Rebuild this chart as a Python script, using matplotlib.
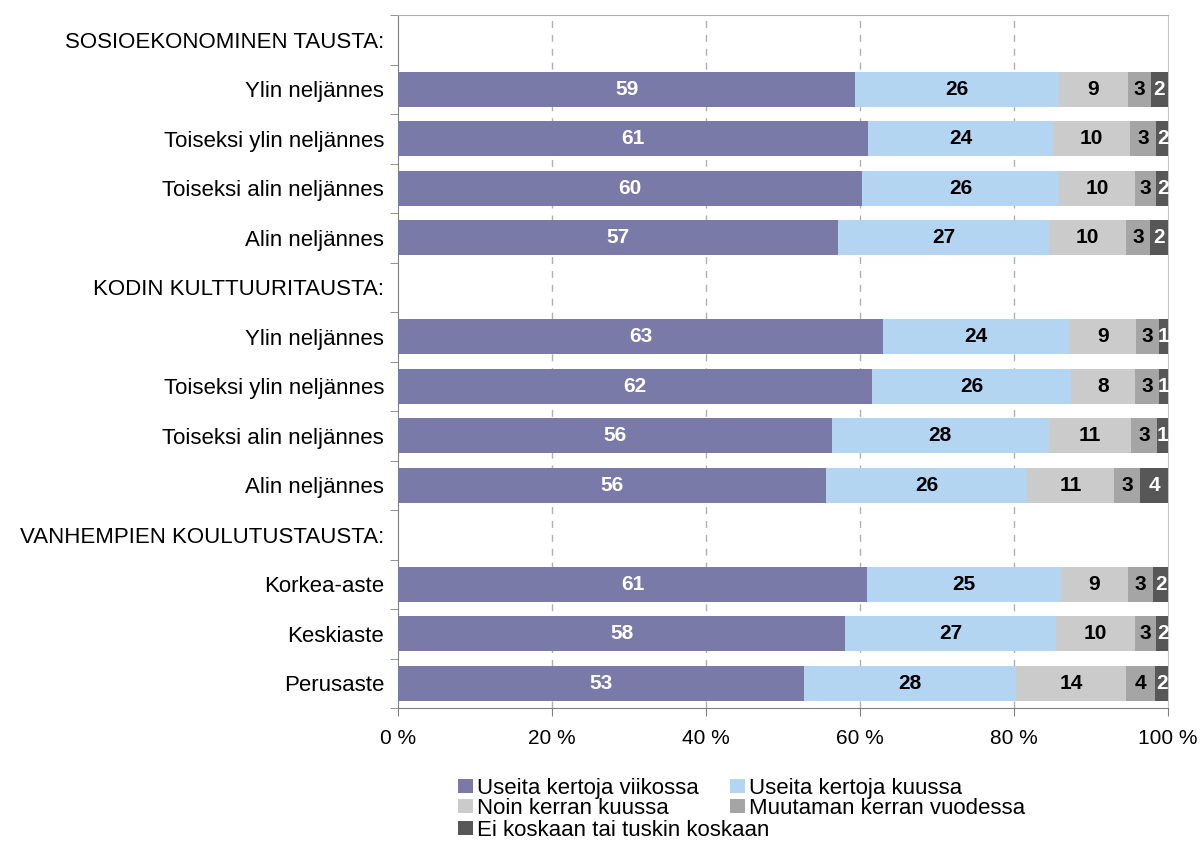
import numpy as np
import matplotlib
matplotlib.use("Agg")
import matplotlib.pyplot as plt
from matplotlib.patches import Patch

plt.rcParams['font.family'] = ['Liberation Sans', 'DejaVu Sans']

# groups (header rows have no bar)
groups = ['SOSIOEKONOMINEN TAUSTA:', 'KODIN KULTTUURITAUSTA:', 'VANHEMPIEN KOULUTUSTAUSTA:']
quartiles = ['Ylin neljännes', 'Toiseksi ylin neljännes', 'Toiseksi alin neljännes', 'Alin neljännes']
education = ['Korkea-aste', 'Keskiaste', 'Perusaste']
subcats = [quartiles, quartiles, education]

series = ['Useita kertoja viikossa', 'Useita kertoja kuussa', 'Noin kerran kuussa',
          'Muutaman kerran vuodessa', 'Ei koskaan tai tuskin koskaan']
colors = ['#7a7aa8', '#b4d5f2', '#cbcbcb', '#a5a5a5', '#575757']
label_colors = ['white', 'black', 'black', 'black', 'white']

# percentages per bar row (11 rows, top to bottom)
weekly  = [59.4, 61.1, 60.3, 57.2, 63.0, 61.6, 56.3, 55.6, 60.9, 58.1, 52.7]
monthly = [26.4, 24.0, 25.6, 27.3, 24.2, 25.8, 28.2, 26.1, 25.2, 27.3, 27.6]
once    = [9.0, 10.0, 9.8, 10.0, 8.7, 8.3, 10.7, 11.3, 8.7, 10.3, 14.3]
yearly  = [3.0, 3.4, 2.8, 3.2, 2.9, 3.1, 3.4, 3.4, 3.3, 2.8, 3.7]
never   = [2.2, 1.6, 1.6, 2.3, 1.2, 1.2, 1.4, 3.6, 1.9, 1.6, 1.8]
data = np.array([weekly, monthly, once, yearly, never])

# build row layout
row_labels = []
bar_rows = []
for g, subs in zip(groups, subcats):
    row_labels.append(g)
    for s in subs:
        bar_rows.append(len(row_labels))
        row_labels.append(s)
bar_rows = np.array(bar_rows)

fig = plt.figure(figsize=(12.04, 8.41), dpi=100)
ax = fig.add_axes([0.3306, 0.158, 0.6395, 0.824])

left = np.zeros(len(bar_rows))
for i in range(len(series)):
    vals = data[i]
    ax.barh(bar_rows, vals, left=left, height=0.71, color=colors[i], zorder=3)
    for y, l, v in zip(bar_rows, left, vals):
        ax.text(l + v / 2, y, f'{v:.0f}', ha='center', va='center',
                color=label_colors[i], fontsize=15, fontweight='bold', zorder=4)
    left = left + vals

ax.set_xlim(0, 100)
ax.set_ylim(len(row_labels) - 0.5, -0.5)
ax.set_yticks(range(len(row_labels)))
ax.set_yticklabels(row_labels, fontsize=16)
ax.tick_params(axis='y', which='major', length=0, pad=10)
ax.set_yticks(np.arange(-0.5, len(row_labels), 1), minor=True)
ax.tick_params(axis='y', which='minor', length=6, color='#808080', direction='out')

ticks = np.arange(0, 101, 20)
ax.set_xticks(ticks)
ax.set_xticklabels([f'{t} %' for t in ticks], fontsize=15)
ax.tick_params(axis='x', length=6, color='#808080', pad=9)

for t in ticks[1:-1]:
    ax.axvline(t, color='#b0b0b0', linestyle=(0, (5, 5)), linewidth=1, zorder=1)

ax.spines['left'].set_color('#808080')
ax.spines['bottom'].set_color('#808080')
ax.spines['top'].set_color('#b0b0b0')
ax.spines['right'].set_color('#c8c8c8')

handles = [Patch(facecolor=c, edgecolor='none') for c in colors]
leg_kw = dict(frameon=False, fontsize=16, handlelength=0.68, handleheight=0.63,
              handletextpad=0.18, labelspacing=-0.05, borderpad=0, borderaxespad=0)
leg1 = fig.legend([handles[0], handles[2], handles[1], handles[3]],
                  [series[0], series[2], series[1], series[3]],
                  ncol=2, loc='upper left', bbox_to_anchor=(0.3804, 0.0749),
                  columnspacing=1.4, **leg_kw)
leg2 = fig.legend([handles[4]], [series[4]], loc='upper left',
                  bbox_to_anchor=(0.3804, 0.025), **leg_kw)

fig.savefig('out.png', dpi=100)
